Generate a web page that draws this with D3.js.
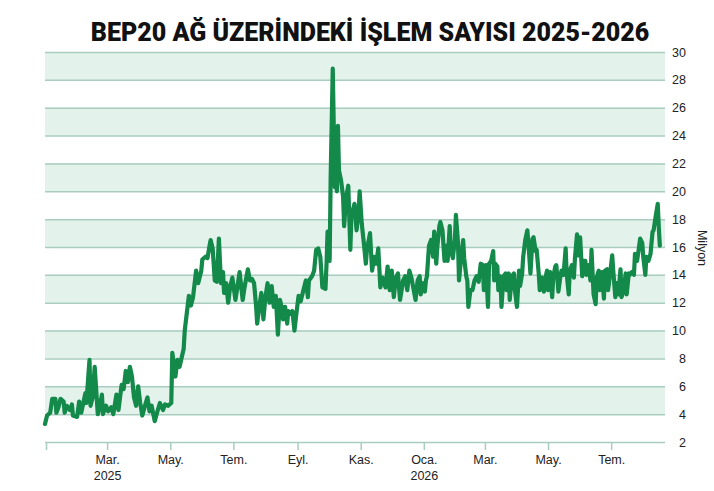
<!DOCTYPE html>
<html>
<head>
<meta charset="utf-8">
<script src="https://cdn.jsdelivr.net/npm/d3@7"></script>
<style>
  body { margin: 0; background: #fff; }
  svg { display: block; font-family: 'Liberation Sans', Arial, sans-serif; }
</style>
</head>
<body>
<div class="chart-container"></div>
<script>
// data: days since 2025-01-01 and transactions (million)
const days = [
  -1, 1, 4, 6, 9, 10, 12, 14, 17, 18, 20, 23, 25, 26, 30, 32, 34, 38, 39, 42,
  43, 45, 47, 50, 52, 54, 55, 58, 60, 63, 65, 68, 70, 73, 75, 77, 79, 81, 83, 85,
  87, 89, 91, 93, 96, 98, 100, 102, 105, 108, 110, 113, 115, 118, 121, 122, 125, 127, 129, 133,
  134, 138, 140, 142, 145, 147, 150, 151, 154, 156, 158, 159, 161, 163, 165, 167, 169, 171, 172, 174,
  176, 178, 180, 183, 185, 187, 190, 192, 195, 197, 199, 201, 203, 204, 206, 208, 210, 212, 214, 216,
  218, 220, 222, 224, 226, 228, 229, 231, 233, 234, 236, 238, 240, 242, 244, 246, 249, 251, 253, 254,
  257, 259, 261, 263, 265, 267, 270, 271, 272, 274, 275, 277, 279, 280, 281, 282, 283, 285, 287, 288,
  290, 292, 294, 295, 298, 300, 302, 303, 305, 307, 309, 310, 313, 315, 317, 319, 321, 323, 325, 328,
  330, 332, 334, 336, 338, 340, 342, 345, 347, 349, 351, 353, 357, 359, 361, 362, 364, 366, 367, 368,
  370, 372, 374, 375, 377, 378, 380, 381, 383, 385, 387, 388, 390, 391, 393, 395, 396, 398, 399, 401,
  403, 404, 406, 407, 408, 410, 412, 414, 416, 418, 420, 422, 423, 425, 427, 428, 430, 432, 433, 434,
  436, 437, 439, 440, 442, 444, 445, 447, 448, 450, 452, 453, 455, 457, 458, 460, 461, 463, 465, 466,
  468, 470, 471, 473, 474, 476, 477, 479, 481, 482, 484, 485, 487, 489, 490, 492, 493, 495, 497, 498,
  500, 502, 503, 505, 506, 508, 510, 511, 513, 514, 516, 518, 519, 521, 522, 524, 526, 527, 529, 531,
  532, 534, 535, 537, 539, 540, 542, 543, 545, 547, 548, 550, 551, 553, 555, 556, 558, 560, 561, 563,
  564, 566, 568, 569, 571, 572, 574, 576, 577, 579, 580, 582, 584, 586, 587, 589, 591, 592, 593
];
const values = [
  3.3, 3.9, 4.1, 5.1, 5.1, 4.1, 4.5, 5.1, 4.9, 4.1, 4.6, 4.3, 4.7, 3.9, 3.8, 4.9, 4.1, 5.5, 4.8, 7.9,
  4.6, 5.2, 7.4, 4.0, 4.6, 5.4, 4.0, 4.6, 4.2, 4.5, 4.0, 5.4, 4.3, 6.1, 5.8, 7.1, 6.3, 7.4, 6.7, 5.2,
  4.6, 6.0, 4.8, 3.9, 4.7, 5.2, 4.2, 4.6, 3.5, 4.3, 4.8, 4.3, 4.7, 4.6, 4.8, 8.4, 6.7, 7.9, 7.4, 8.7,
  10.0, 12.5, 11.8, 12.4, 14.3, 13.4, 14.3, 15.1, 15.3, 15.2, 16.1, 16.5, 15.9, 13.6, 13.5, 16.6, 13.4, 14.2, 12.7, 13.4,
  12.0, 13.2, 13.8, 12.2, 13.2, 14.2, 12.2, 13.2, 14.4, 13.6, 13.7, 13.4, 11.7, 10.5, 11.7, 12.7, 10.8, 12.4, 13.4, 12.0,
  13.2, 11.7, 12.5, 9.7, 12.2, 11.6, 10.8, 11.7, 10.5, 11.4, 11.2, 11.4, 10.0, 11.3, 12.5, 12.1, 13.0, 13.6, 12.4, 13.6,
  13.9, 14.3, 15.8, 15.9, 15.3, 13.1, 13.0, 14.8, 17.1, 15.0, 21.0, 28.8, 20.3, 22.2, 20.0, 24.7, 21.5, 20.8, 19.6, 17.5,
  19.6, 20.4, 15.8, 18.2, 19.1, 17.2, 18.6, 20.0, 17.7, 16.3, 14.8, 15.8, 17.0, 14.3, 15.3, 14.8, 15.9, 13.1, 13.8, 13.1,
  14.6, 12.9, 14.3, 12.4, 13.8, 14.1, 12.2, 13.6, 13.9, 12.9, 14.3, 13.8, 12.2, 13.6, 13.9, 12.6, 13.4, 12.8, 13.6, 13.9,
  16.1, 16.5, 15.3, 17.1, 14.8, 16.0, 17.5, 17.8, 17.2, 15.0, 16.1, 15.0, 17.5, 15.9, 15.2, 16.5, 18.3, 16.3, 13.6, 15.2,
  16.5, 15.2, 13.9, 13.6, 11.7, 12.9, 12.9, 13.6, 13.9, 13.5, 14.8, 14.7, 12.9, 14.7, 11.7, 14.8, 15.0, 15.7, 13.6, 14.8,
  14.6, 12.9, 13.9, 11.7, 13.9, 14.1, 12.9, 14.1, 12.2, 13.9, 14.1, 12.9, 11.7, 14.3, 13.2, 14.1, 15.3, 16.5, 17.2, 16.3,
  14.1, 16.6, 16.7, 15.7, 15.8, 14.1, 12.9, 13.8, 12.8, 13.6, 14.3, 12.9, 14.2, 12.4, 13.8, 14.6, 14.7, 12.8, 13.9, 14.3,
  14.0, 15.9, 14.1, 12.6, 14.3, 14.7, 13.8, 15.2, 16.9, 15.4, 16.7, 13.9, 15.0, 15.0, 14.0, 14.7, 13.6, 15.8, 12.6, 11.9,
  13.8, 14.3, 12.9, 14.2, 12.3, 14.3, 14.4, 12.9, 14.1, 15.4, 14.3, 12.4, 13.4, 12.6, 14.4, 12.4, 12.8, 14.1, 12.6, 14.1,
  14.0, 14.2, 14.0, 15.5, 15.0, 15.5, 16.6, 16.3, 15.3, 14.0, 15.3, 15.0, 15.5, 17.1, 17.2, 18.2, 19.1, 17.4, 16.1
];

// axis labels
const monthTicks = ['2025-01-01', '2025-03-01', '2025-05-01', '2025-07-01', '2025-09-01', '2025-11-01',
  '2026-01-01', '2026-03-01', '2026-05-01', '2026-07-01'];
const monthLabels = ['', 'Mar.', 'May.', 'Tem.', 'Eyl.', 'Kas.', 'Oca.', 'Mar.', 'May.', 'Tem.'];
const yearLabels = ['', '2025', '', '', '', '', '2026', '', '', ''];
const yTicks = [2, 4, 6, 8, 10, 12, 14, 16, 18, 20, 22, 24, 26, 28, 30];

const title = 'BEP20 AĞ ÜZERİNDEKİ İŞLEM SAYISI 2025-2026';
const unitLabel = 'Milyon';

const parseDay = d3.timeParse('%Y-%m-%d');
const start = parseDay('2025-01-01');
const series = days.map((d, i) => ({ date: d3.timeDay.offset(start, d), value: values[i] }));

const W = 714, H = 491;
const gridColor = '#a8cdbf';
const bandColor = '#e4f2ec';
const lineColor = '#13894a';

const xScale = d3.scaleTime()
  .domain([d3.timeDay.offset(start, -1), d3.timeDay.offset(start, 598)])
  .range([45, 665]);

const yScale = d3.scaleLinear()
  .domain([2, 30])
  .range([442, 52]);

const svg = d3.select('.chart-container')
  .append('svg')
  .attr('width', W)
  .attr('height', H);

// title
svg.append('text')
  .attr('x', 370)
  .attr('y', 41)
  .attr('text-anchor', 'middle')
  .style('font-family', 'Roboto, sans-serif')
  .style('font-weight', 900)
  .style('font-size', '25px')
  .style('fill', '#111')
  .text(title);

// shaded bands between every other pair of gridlines
const bands = yTicks.filter(t => t % 4 === 0 && t < 30);
svg.append('g')
  .selectAll('rect')
  .data(bands)
  .enter()
  .append('rect')
  .attr('x', xScale.range()[0])
  .attr('width', xScale.range()[1] - xScale.range()[0])
  .attr('y', d => yScale(d + 2))
  .attr('height', d => yScale(d) - yScale(d + 2))
  .style('fill', bandColor);

// y axis on the right, with gridlines
const yAxis = d3.axisRight(yScale)
  .tickValues(yTicks)
  .tickSize(-(xScale.range()[1] - xScale.range()[0]))
  .tickPadding(0)
  .tickFormat(d3.format('d'));

const yAxisDraw = svg.append('g')
  .attr('transform', `translate(${xScale.range()[1]}, 0)`)
  .call(yAxis);

yAxisDraw.select('.domain').remove();
yAxisDraw.selectAll('.tick line')
  .style('stroke', gridColor)
  .style('stroke-width', 1.5);
yAxisDraw.selectAll('.tick text')
  .attr('x', 21)
  .style('text-anchor', 'end')
  .style('font-size', '12.5px')
  .style('fill', '#222');

svg.append('text')
  .attr('transform', `translate(698, 248) rotate(90)`)
  .attr('text-anchor', 'middle')
  .style('font-size', '12.5px')
  .style('fill', '#222')
  .text(unitLabel);

// x axis
const xTickDates = monthTicks.map(parseDay);
const xAxis = d3.axisBottom(xScale)
  .tickValues(xTickDates)
  .tickSizeInner(8)
  .tickSizeOuter(0)
  .tickFormat((d, i) => monthLabels[i]);

const xAxisDraw = svg.append('g')
  .attr('transform', `translate(0, ${yScale(2)})`)
  .call(xAxis);

xAxisDraw.select('.domain').remove();
xAxisDraw.selectAll('.tick line')
  .style('stroke', gridColor)
  .style('stroke-width', 1.5);
xAxisDraw.selectAll('.tick text')
  .attr('y', 13)
  .attr('dy', '0.71em')
  .style('font-size', '12.5px')
  .style('fill', '#222');

xAxisDraw.selectAll('.tick')
  .append('text')
  .attr('y', 29)
  .attr('dy', '0.71em')
  .style('text-anchor', 'middle')
  .style('font-size', '12.5px')
  .style('fill', '#222')
  .text((d, i) => yearLabels[i]);

// line
const lineGen = d3.line()
  .x(d => xScale(d.date))
  .y(d => yScale(d.value));

svg.append('path')
  .datum(series)
  .attr('d', lineGen)
  .style('fill', 'none')
  .style('stroke', lineColor)
  .style('stroke-width', 4.2)
  .style('stroke-linejoin', 'round')
  .style('stroke-linecap', 'round');
</script>
</body>
</html>
